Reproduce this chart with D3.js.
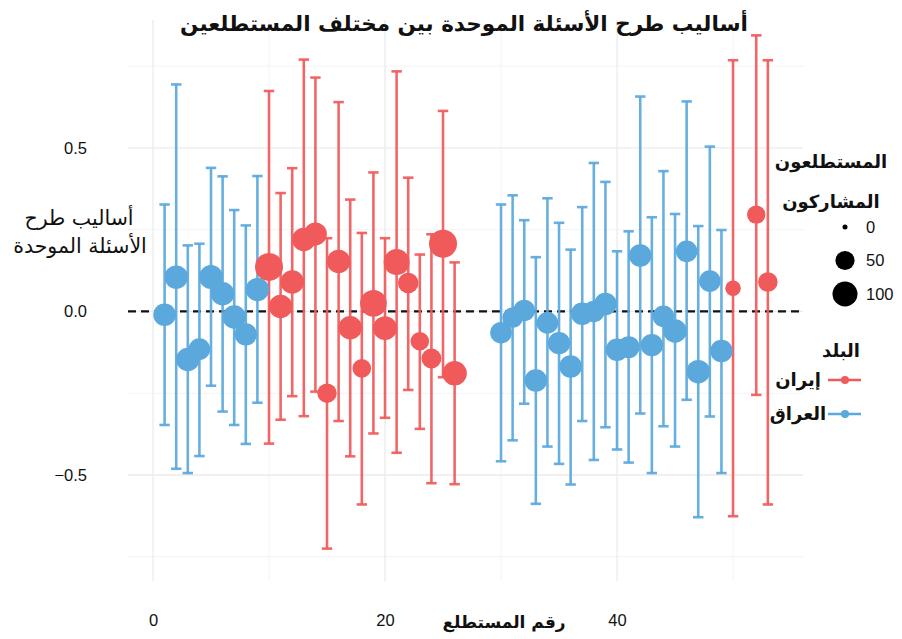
<!DOCTYPE html>
<html lang="ar">
  <head>
    <meta charset="utf-8">
    <script src="https://cdn.jsdelivr.net/npm/d3@7"></script>
    <style>
      body {
        margin: 0;
        background: #fff;
      }
      svg {
        display: block;
      }
      .ar {
        font-family: 'DejaVu Sans', sans-serif;
        fill: #111;
      }
      .tick text {
        font-family: 'Liberation Sans', Arial, sans-serif;
        font-size: 16.5px;
        fill: #111;
      }
    </style>
  </head>
  <body>
    <svg></svg>
  </body>
  <script>

    // Data
    const respondent = [1, 2, 3, 4, 5, 6, 7, 8, 9, 10, 11, 12, 13, 14, 15, 16, 17, 18, 19, 20, 21, 22, 23, 24, 25, 26,
      30, 31, 32, 33, 34, 35, 36, 37, 38, 39, 40, 41, 42, 43, 44, 45, 46, 47, 48, 49, 50, 52, 53];
    const country = ['العراق', 'العراق', 'العراق', 'العراق', 'العراق', 'العراق', 'العراق', 'العراق', 'العراق',
      'إيران', 'إيران', 'إيران', 'إيران', 'إيران', 'إيران', 'إيران', 'إيران', 'إيران', 'إيران', 'إيران', 'إيران',
      'إيران', 'إيران', 'إيران', 'إيران', 'إيران',
      'العراق', 'العراق', 'العراق', 'العراق', 'العراق', 'العراق', 'العراق', 'العراق', 'العراق', 'العراق',
      'العراق', 'العراق', 'العراق', 'العراق', 'العراق', 'العراق', 'العراق', 'العراق', 'العراق', 'العراق',
      'إيران', 'إيران', 'إيران'];
    const estimate = [-0.010, 0.105, -0.147, -0.115, 0.105, 0.054, -0.017, -0.070, 0.067,
      0.136, 0.015, 0.090, 0.220, 0.237, -0.250, 0.153, -0.050, -0.174, 0.025, -0.051, 0.151, 0.087, -0.091, -0.144, 0.207, -0.189,
      -0.065, -0.019, 0.003, -0.211, -0.035, -0.097, -0.168, -0.007, 0.000, 0.023, -0.117, -0.109, 0.171, -0.103,
      -0.015, -0.060, 0.184, -0.184, 0.093, -0.121,
      0.071, 0.296, 0.090];
    const lower = [-0.347, -0.481, -0.494, -0.442, -0.227, -0.306, -0.347, -0.405, -0.279,
      -0.404, -0.331, -0.259, -0.320, -0.245, -0.725, -0.335, -0.443, -0.590, -0.373, -0.325, -0.432, -0.240, -0.359, -0.525, -0.201, -0.528,
      -0.458, -0.394, -0.282, -0.588, -0.413, -0.466, -0.529, -0.335, -0.454, -0.354, -0.422, -0.462, -0.312, -0.494,
      -0.351, -0.413, -0.270, -0.629, -0.321, -0.494,
      -0.626, -0.255, -0.590];
    const upper = [0.327, 0.694, 0.202, 0.207, 0.439, 0.413, 0.310, 0.263, 0.414,
      0.674, 0.362, 0.438, 0.770, 0.715, 0.224, 0.640, 0.342, 0.240, 0.425, 0.224, 0.734, 0.409, 0.174, 0.236, 0.613, 0.150,
      0.327, 0.355, 0.279, 0.166, 0.346, 0.271, 0.189, 0.319, 0.454, 0.396, 0.184, 0.245, 0.657, 0.288,
      0.429, 0.298, 0.642, 0.261, 0.504, 0.249,
      0.768, 0.844, 0.768];
    const participants = [77, 85, 85, 69, 90, 85, 85, 76, 85,
      132, 85, 85, 85, 80, 52, 85, 85, 46, 117, 90, 110, 61, 46, 56, 132, 94,
      69, 60, 69, 77, 69, 76, 77, 76, 69, 77, 76, 72, 76, 76,
      69, 85, 69, 85, 69, 76,
      28, 45, 53];

    const countries = ['إيران', 'العراق'];
    const sizeBreaks = [0, 50, 100];
    const xTicks = [0, 20, 40];
    const yTicks = [-0.5, 0, 0.5];

    const data = respondent.map((r, i) => ({
      id: r, country: country[i], est: estimate[i], lo: lower[i], hi: upper[i], n: participants[i]
    }));

    // Initialize svg
    const width = 902;
    const height = 639;
    const panel = { left: 128, right: 803, top: 20, bottom: 581 };

    const svg = d3.select('svg')
        .attr('width', width)
        .attr('height', height);

    const x = d3.scaleLinear()
        .domain([-2.155, 56.03])
        .range([panel.left, panel.right]);
    const y = d3.scaleLinear()
        .domain([-0.824, 0.891])
        .range([panel.bottom, panel.top]);
    const color = d3.scaleOrdinal()
        .domain(countries)
        .range(['#f05a5b', '#5aa8dc']);
    const size = d3.scaleSqrt()
        .domain([0, 100])
        .range([2.5, 12.5]);

    // Grid
    const grid = svg.append('g');
    grid.selectAll('.vminor')
        .data([10, 30, 50])
      .enter().append('line')
        .attr('x1', d => x(d)).attr('x2', d => x(d))
        .attr('y1', panel.top).attr('y2', panel.bottom)
        .attr('stroke', '#f3f3f3').attr('stroke-width', 1);
    grid.selectAll('.hminor')
        .data([-0.75, -0.25, 0.25, 0.75])
      .enter().append('line')
        .attr('x1', panel.left).attr('x2', panel.right)
        .attr('y1', d => y(d)).attr('y2', d => y(d))
        .attr('stroke', '#f3f3f3').attr('stroke-width', 1);
    grid.selectAll('.vmajor')
        .data(xTicks)
      .enter().append('line')
        .attr('x1', d => x(d)).attr('x2', d => x(d))
        .attr('y1', panel.top).attr('y2', panel.bottom)
        .attr('stroke', '#ebebeb').attr('stroke-width', 1.3);
    grid.selectAll('.hmajor')
        .data(yTicks)
      .enter().append('line')
        .attr('x1', panel.left).attr('x2', panel.right)
        .attr('y1', d => y(d)).attr('y2', d => y(d))
        .attr('stroke', '#ebebeb').attr('stroke-width', 1.3);

    // Reference line at zero
    svg.append('line')
        .attr('x1', panel.left).attr('x2', panel.right)
        .attr('y1', y(0)).attr('y2', y(0))
        .attr('stroke', '#111')
        .attr('stroke-width', 2.2)
        .attr('stroke-dasharray', '8,5');

    // Error bars and points
    const marks = svg.append('g');
    const bars = marks.selectAll('.bar')
        .data(data)
      .enter().append('g')
        .attr('stroke', d => color(d.country))
        .attr('stroke-width', 2.6)
        .attr('stroke-opacity', 0.92);
    bars.append('line')
        .attr('x1', d => x(d.id)).attr('x2', d => x(d.id))
        .attr('y1', d => y(d.lo)).attr('y2', d => y(d.hi));
    bars.append('line')
        .attr('x1', d => x(d.id - 0.45)).attr('x2', d => x(d.id + 0.45))
        .attr('y1', d => y(d.lo)).attr('y2', d => y(d.lo));
    bars.append('line')
        .attr('x1', d => x(d.id - 0.45)).attr('x2', d => x(d.id + 0.45))
        .attr('y1', d => y(d.hi)).attr('y2', d => y(d.hi));

    marks.selectAll('circle')
        .data(data)
      .enter().append('circle')
        .attr('cx', d => x(d.id))
        .attr('cy', d => y(d.est))
        .attr('r', d => size(d.n))
        .attr('fill', d => color(d.country));

    // Axes (labels only)
    const yAxis = svg.append('g')
        .attr('transform', 'translate(' + panel.left + ',0)')
        .call(d3.axisLeft(y).tickValues(yTicks).tickSize(0).tickPadding(41).tickFormat(d3.format('.1f')));
    yAxis.select('.domain').remove();

    const xAxis = svg.append('g')
        .attr('transform', 'translate(0,' + panel.bottom + ')')
        .call(d3.axisBottom(x).tickValues(xTicks).tickSize(0).tickPadding(33));
    xAxis.select('.domain').remove();

    // Titles
    svg.append('text')
        .attr('class', 'ar')
        .attr('x', 464).attr('y', 31)
        .attr('text-anchor', 'middle')
        .attr('direction', 'rtl')
        .style('font-size', '21.5px')
        .style('font-weight', 'bold')
        .text('أساليب طرح الأسئلة الموحدة بين مختلف المستطلعين');

    svg.append('text')
        .attr('class', 'ar')
        .attr('x', 504).attr('y', 628)
        .attr('text-anchor', 'middle')
        .style('font-size', '17px')
        .style('font-weight', 'bold')
        .text('رقم المستطلع');

    svg.append('text')
        .attr('class', 'ar')
        .attr('x', 79).attr('y', 225)
        .attr('text-anchor', 'middle')
        .style('font-size', '20.5px')
        .text('أساليب طرح');
    svg.append('text')
        .attr('class', 'ar')
        .attr('x', 80).attr('y', 253)
        .attr('text-anchor', 'middle')
        .style('font-size', '20.5px')
        .text('الأسئلة الموحدة');

    // Size legend
    const legend = svg.append('g');
    legend.append('text')
        .attr('class', 'ar')
        .attr('x', 831).attr('y', 168)
        .attr('text-anchor', 'middle')
        .style('font-size', '18px')
        .style('font-weight', 'bold')
        .text('المستطلعون');
    legend.append('text')
        .attr('class', 'ar')
        .attr('x', 831).attr('y', 208)
        .attr('text-anchor', 'middle')
        .style('font-size', '18px')
        .style('font-weight', 'bold')
        .text('المشاركون');

    const sizeKeys = legend.selectAll('.sizekey')
        .data(sizeBreaks)
      .enter().append('g')
        .attr('transform', (d, i) => 'translate(845,' + (227 + i * 33.5) + ')');
    sizeKeys.append('circle')
        .attr('r', d => size(d))
        .attr('fill', '#000');
    sizeKeys.append('text')
        .attr('x', 21).attr('dy', '0.36em')
        .style('font-family', "'Liberation Sans', Arial, sans-serif")
        .style('font-size', '16.5px')
        .attr('fill', '#111')
        .text(d => d);

    // Colour legend
    legend.append('text')
        .attr('class', 'ar')
        .attr('x', 841).attr('y', 357)
        .attr('text-anchor', 'middle')
        .style('font-size', '18px')
        .style('font-weight', 'bold')
        .text('البلد');

    const colorKeys = legend.selectAll('.colorkey')
        .data(countries)
      .enter().append('g')
        .attr('transform', (d, i) => 'translate(0,' + (380 + i * 34) + ')');
    colorKeys.append('line')
        .attr('x1', 828).attr('x2', 861)
        .attr('stroke', d => color(d))
        .attr('stroke-width', 2.4);
    colorKeys.append('circle')
        .attr('cx', 845)
        .attr('r', 4)
        .attr('fill', d => color(d));
    colorKeys.append('text')
        .attr('class', 'ar')
        .attr('x', 798).attr('dy', '0.35em')
        .attr('text-anchor', 'middle')
        .style('font-size', '18px')
        .style('font-weight', 'bold')
        .text(d => d);
  </script>
</html>
